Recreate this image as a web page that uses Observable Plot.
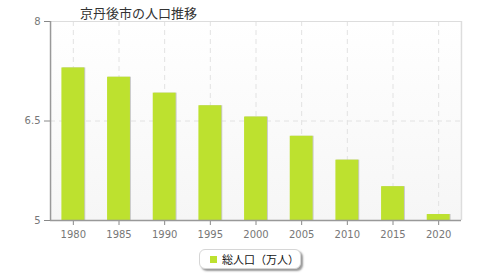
<!DOCTYPE html>
<html>
<head>
<meta charset="utf-8">
<script src="https://cdn.jsdelivr.net/npm/d3@7"></script>
<script src="https://cdn.jsdelivr.net/npm/@observablehq/plot@0.6"></script>
<style>
  html, body { margin: 0; padding: 0; background: #fff; }
  #wrap { position: relative; width: 480px; height: 280px; overflow: hidden; font-family: "Noto Sans CJK JP", "DejaVu Sans", sans-serif; }
  #title { position: absolute; left: 80px; top: 3px; font-size: 13px; color: #333; white-space: nowrap; }
  #legend { position: absolute; left: 199px; top: 249px; width: 100px; height: 18px; border: 1px solid #d6d6d6; border-radius: 6px; box-shadow: 2px 2px 2px #999; background: #fff; font-size: 11px; color: #111; }
  #legend .sw { position: absolute; left: 10px; top: 6px; width: 7px; height: 7px; background: #bde12f; }
  #legend .tx { position: absolute; left: 22px; top: 1px; white-space: nowrap; }
  #chart { position: absolute; left: 0; top: 0; }
</style>
</head>
<body>
<div id="wrap">
  <div id="chart"></div>
  <div id="title">京丹後市の人口推移</div>
  <div id="legend"><span class="sw"></span><span class="tx">総人口（万人）</span></div>
</div>
<script>
const years = ["1980", "1985", "1990", "1995", "2000", "2005", "2010", "2015", "2020"];
const population = [7.30, 7.16, 6.92, 6.73, 6.56, 6.27, 5.91, 5.51, 5.09];
const yTicks = [5, 6.5, 8];
const yTickLabels = ["5", "6.5", "8"];
const seriesName = "総人口（万人）";

const data = years.map((y, i) => ({year: y, value: population[i]}));

function gradientBg(index, scales, values, dimensions) {
  const ns = "http://www.w3.org/2000/svg";
  const g = document.createElementNS(ns, "g");
  const defs = document.createElementNS(ns, "defs");
  const lg = document.createElementNS(ns, "linearGradient");
  lg.setAttribute("id", "bgGrad");
  lg.setAttribute("x1", "0"); lg.setAttribute("y1", "0");
  lg.setAttribute("x2", "0"); lg.setAttribute("y2", "1");
  [["0", "#ffffff"], ["1", "#f6f6f6"]].forEach(([o, c]) => {
    const s = document.createElementNS(ns, "stop");
    s.setAttribute("offset", o); s.setAttribute("stop-color", c);
    lg.appendChild(s);
  });
  defs.appendChild(lg);
  g.appendChild(defs);
  const r = document.createElementNS(ns, "rect");
  const {marginLeft, marginRight, marginTop, marginBottom, width, height} = dimensions;
  r.setAttribute("x", marginLeft);
  r.setAttribute("y", marginTop);
  r.setAttribute("width", width - marginLeft - marginRight);
  r.setAttribute("height", height - marginTop - marginBottom);
  r.setAttribute("fill", "url(#bgGrad)");
  g.appendChild(r);
  return g;
}

const chart = Plot.plot({
  width: 480,
  height: 280,
  marginLeft: 50,
  marginRight: 19,
  marginTop: 21,
  marginBottom: 60,
  style: {fontFamily: "DejaVu Sans, sans-serif", fontSize: "10px", background: "transparent"},
  x: {type: "band", domain: years, padding: 0, round: false, label: null},
  y: {domain: [5, 8], label: null},
  marks: [
    gradientBg,
    Plot.ruleX(years, {x: d => d, stroke: "#e2e2e2", strokeDasharray: "5,4", strokeWidth: 1}),
    Plot.ruleY([6.5], {stroke: "#e2e2e2", strokeDasharray: "5,4", strokeWidth: 1}),
    Plot.ruleY([8], {stroke: "#dddddd", strokeWidth: 1}),
    Plot.ruleX([years[years.length - 1]], {x: d => d, dx: 22.8, stroke: "#dddddd", strokeWidth: 1.5}),
    Plot.barY(data, {x: "year", y1: 5, y2: "value", dx: 1, insetLeft: 11.4, insetRight: 11.4, fill: "#c9c9c9"}),
    Plot.barY(data, {x: "year", y1: 5, y2: "value", insetLeft: 11.4, insetRight: 11.4, fill: "#bde12f", title: d => `${seriesName} ${d.year}: ${d.value}`}),
    Plot.axisY({ticks: yTicks, tickFormat: (d, i) => yTickLabels[i], tickSize: 6, tickPadding: 4, stroke: "#888", fill: "#777", fontSize: 10}),
    Plot.axisX({tickSize: 5, tickPadding: 5, stroke: "#888", fill: "#777", fontSize: 10}),
    Plot.ruleX([0], {x: () => years[0], dx: -22.8, stroke: "#999", strokeWidth: 1.5}),
    Plot.ruleY([5], {stroke: "#999", strokeWidth: 1.5})
  ]
});
document.getElementById("chart").appendChild(chart);
</script>
</body>
</html>
